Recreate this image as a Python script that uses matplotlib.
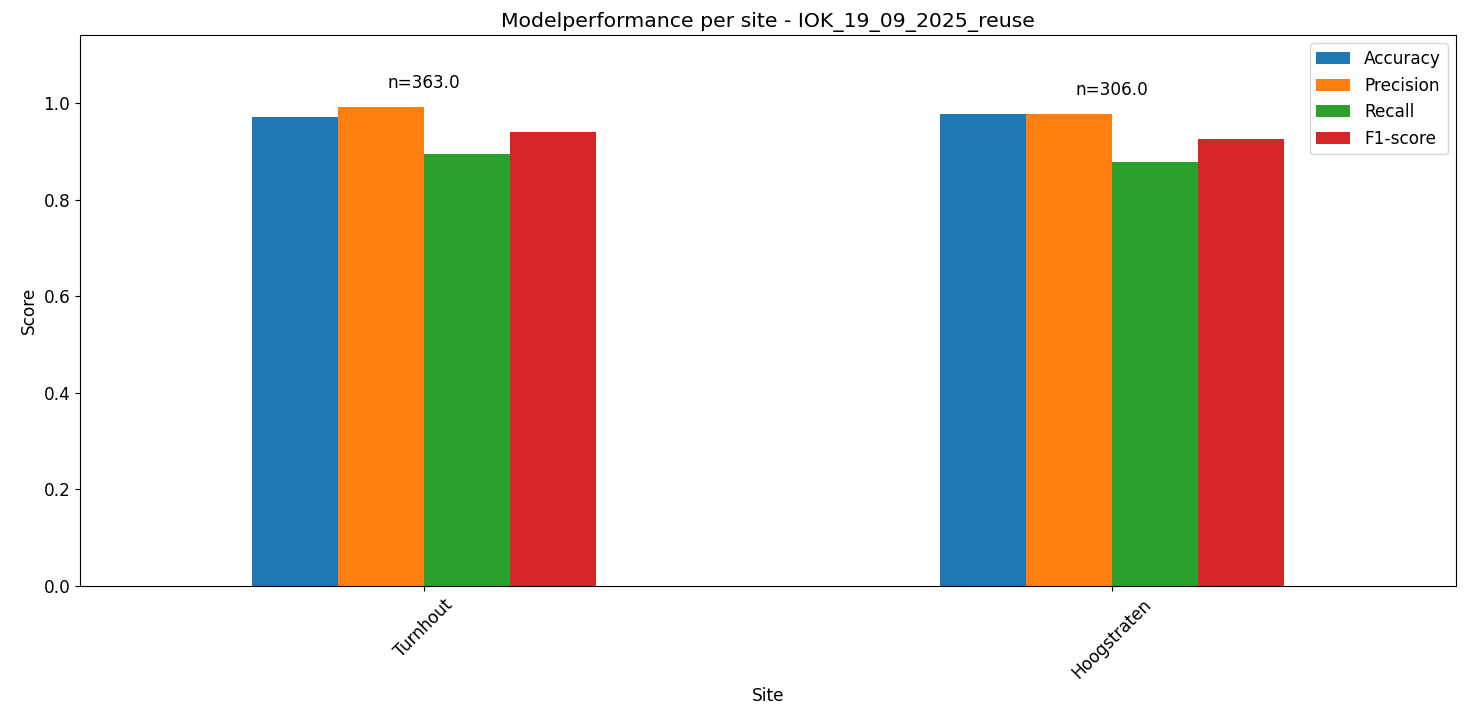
import matplotlib.pyplot as plt
import numpy as np
import pandas as pd

sites = ['Turnhout', 'Hoogstraten']
metrics = ['Accuracy', 'Precision', 'Recall', 'F1-score']
accuracy = [0.971, 0.978]
precision = [0.992, 0.978]
recall = [0.894, 0.877]
f1 = [0.940, 0.925]
n_samples = [363.0, 306.0]

df = pd.DataFrame({'Accuracy': accuracy, 'Precision': precision,
                   'Recall': recall, 'F1-score': f1}, index=sites)
df.index.name = 'Site'

fs = 12.2
fig = plt.figure(figsize=(14.66, 7.07), dpi=100)
ax = fig.add_axes([80/1466, 1 - 585.7/707, 1376/1466, 550.7/707])

df.plot(kind='bar', ax=ax, rot=45, fontsize=fs)

# n annotations above each group
for i, site in enumerate(sites):
    top = df.loc[site].max()
    ax.text(i, top + 0.03, f'n={n_samples[i]}', ha='center', va='bottom', fontsize=fs)

ax.set_ylim(0, df.values.max() * 1.15)
ax.set_title('Modelperformance per site - IOK_19_09_2025_reuse', fontsize=14.7)
ax.set_xlabel('Site', fontsize=fs)
ax.set_ylabel('Score', fontsize=fs)
ax.legend(fontsize=fs, loc='upper right')

plt.savefig('out.png', dpi=100)
